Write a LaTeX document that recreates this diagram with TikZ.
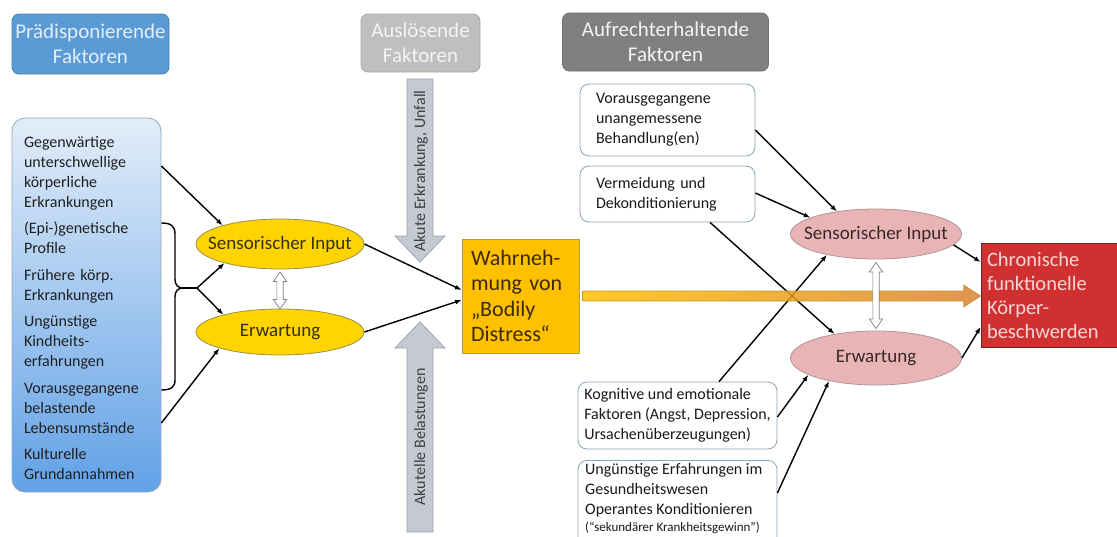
\documentclass[tikz,border=0pt]{standalone}
\usepackage{fontspec}
\setmainfont{Carlito}
\usetikzlibrary{shapes.geometric,shapes.arrows,arrows.meta,calc}
\definecolor{hblue}{HTML}{5B9BD5}
\definecolor{hblueb}{HTML}{4A7EB0}
\definecolor{hbluet}{HTML}{E2EEF9}
\definecolor{hgrayA}{HTML}{BFBFBF}
\definecolor{hgrayAb}{HTML}{A6A6A6}
\definecolor{hgrayB}{HTML}{808080}
\definecolor{hgrayBb}{HTML}{6E6E6E}
\definecolor{htextw}{HTML}{F4F4F4}
\definecolor{lbtop}{HTML}{E2EDF9}
\definecolor{lbbot}{HTML}{62A1E6}
\definecolor{lbb}{HTML}{8FA9C6}
\definecolor{yfill}{HTML}{FFD400}
\definecolor{yborder}{HTML}{9C8F4A}
\definecolor{ytext}{HTML}{33300F}
\definecolor{wfill}{HTML}{FFC000}
\definecolor{wborder}{HTML}{A9A050}
\definecolor{wtext}{HTML}{3B2A05}
\definecolor{gfill}{HTML}{C5CAD2}
\definecolor{gborder}{HTML}{9AA2AE}
\definecolor{gtextc}{HTML}{3F3F3F}
\definecolor{pfill}{HTML}{E8B4B6}
\definecolor{pborder}{HTML}{B39494}
\definecolor{ptext}{HTML}{3A2828}
\definecolor{rfill}{HTML}{D03030}
\definecolor{rborder}{HTML}{7B1E1E}
\definecolor{rtext}{HTML}{FCD5D5}
\definecolor{bborder}{HTML}{8DA2B6}
\definecolor{orL}{HTML}{FFC000}
\definecolor{orR}{HTML}{DA8236}
\definecolor{orB}{HTML}{C8943C}
\definecolor{darr}{HTML}{7F7F7F}
\begin{document}
\begin{tikzpicture}[x=1pt,y=-1pt,
  every node/.style={inner sep=0pt},
  hdr/.style={rounded corners=7pt, align=center, font=\fontsize{21}{25}\selectfont, line width=0.8pt},
  smalltext/.style={font=\fontsize{16}{20}\selectfont},
  wbox/.style={draw=bborder, fill=white, rounded corners=9pt, line width=0.8pt, align=left, smalltext, text=black!90},
  yell/.style={ellipse, draw=yborder, fill=yfill, line width=0.8pt},
  pell/.style={ellipse, draw=pborder, fill=pfill, line width=0.8pt},
  etext/.style={font=\fontsize{19}{22}\selectfont},
  conn/.style={line width=1.4pt, black},
  arr/.style={conn, -{Latex[length=6.5pt,width=5pt]}},
  garrow/.style={fill=gfill, draw=gborder, line width=0.8pt},
  gtext/.style={smalltext, text=gtextc},
  dbl/.style={double arrow, draw=darr, fill=white, line width=0.7pt, minimum height=37pt, inner sep=2.8pt, double arrow head extend=3.5pt, double arrow tip angle=70, rotate=90}
]
\useasboundingbox (0,0) rectangle (1117,536);
\clip (0,0) rectangle (1117,536);

% headers
\node[hdr, fill=hblue, draw=hblueb, text=hbluet, minimum width=157pt, minimum height=60pt] (h1) at (90.5,44) {Prädisponierende\\Faktoren};
\node[hdr, fill=hgrayA, draw=hgrayAb, text=htextw, minimum width=119pt, minimum height=58pt] (h2) at (420.5,43) {Auslösende\\Faktoren};
\node[hdr, fill=hgrayB, draw=hgrayBb, text=htextw, minimum width=206pt, minimum height=58pt] (h3) at (665.5,42) {Aufrechterhaltende\\Faktoren};

% left box
\node[draw=lbb, line width=0.8pt, rounded corners=13pt, top color=lbtop, bottom color=lbbot, minimum width=149pt, minimum height=374pt] (lb) at (86.5,305) {};
\node[align=left, text width=125pt, smalltext, text=black!88] (lbt) at (86.5,308) {Gegenwärtige\\unterschwellige\\körperliche\\Erkrankungen\\[6pt](Epi-)genetische\\Profile\\[6.5pt]Frühere körp.\\Erkrankungen\\[6pt]Ungünstige\\Kindheits-\\erfahrungen\\[7pt]Vorausgegangene\\belastende\\Lebensumstände\\[6pt]Kulturelle\\Grundannahmen};

% yellow ellipses
\node[yell, minimum width=168pt, minimum height=50pt] (ysens) at (280,244) {};
\node[etext, text=ytext] (ysenst) at (ysens) {Sensorischer Input};
\node[yell, minimum width=168pt, minimum height=46pt] (yerw) at (280,332) {};
\node[etext, text=ytext] (yerwt) at (yerw) {Erwartung};

% Wahrnehmung
\node[draw=wborder, fill=wfill, line width=0.8pt, minimum width=117pt, minimum height=114pt, align=left, text width=99pt, font=\fontsize{22}{25.5}\selectfont, text=wtext] (wahr) at (520.5,296) {Wahrneh-\\mung von\\„Bodily\\Distress“};

% grey arrows
\draw[garrow] (407,79) -- (433,79) -- (433,236) -- (445,236) -- (420,262) -- (395,236) -- (407,236) -- cycle;
\draw[garrow] (407,532) -- (433,532) -- (433,348) -- (445,348) -- (420,322) -- (395,348) -- (407,348) -- cycle;
\node[gtext, rotate=90] (akut1) at (421,171) {Akute Erkrankung, Unfall};
\node[gtext, rotate=90] (akut2) at (421,437) {Akutelle Belastungen};

% right boxes
\node[wbox, minimum width=175pt, minimum height=72pt, text width=143pt] (b1) at (667.5,120) {Vorausgegangene\\unangemessene\\Behandlung(en)};
\node[wbox, minimum width=175pt, minimum height=56pt, text width=143pt] (b2) at (667.5,194) {Vermeidung und\\Dekonditionierung};
\node[wbox, minimum width=199pt, minimum height=67pt] (b3) at (677.5,415.5) {Kognitive und emotionale\\Faktoren (Angst, Depression,\\Ursachenüberzeugungen)};
\node[wbox, minimum width=199pt, minimum height=92pt, anchor=north] (b4) at (677.5,460) {};
\node[smalltext, align=left, anchor=north west, text=black!90] (b4t) at (585,463) {Ungünstige Erfahrungen im\\Gesundheitswesen\\Operantes Konditionieren\\[-3pt]{\fontsize{13}{16}\selectfont(“sekundärer Krankheitsgewinn”)}};

% pink ellipses
\node[pell, minimum width=171pt, minimum height=50pt] (psens) at (876,234) {};
\node[etext, text=ptext] (psenst) at (psens) {Sensorischer Input};
\node[pell, minimum width=171pt, minimum height=54pt] (perw) at (876,358) {};
\node[etext, text=ptext] (perwt) at (perw) {Erwartung};

% red box
\node[draw=rborder, fill=rfill, line width=0.8pt, minimum width=136pt, minimum height=104pt, align=left, text width=124pt, font=\fontsize{20.5}{24}\selectfont, text=rtext] (red) at (1049,295) {Chronische\\funktionelle\\Körper-\\beschwerden};

% left connectors
\coordinate (btip) at (183,288);
\coordinate (bfork) at (197,288);
\draw[arr] (lb.east |- 0,166) -- (ysens.162);
\draw[arr] (lb.east |- 0,423) -- (yerw.195);
\draw[conn] (lb.east |- 0,223) .. controls (171,223) and (175,226) .. (175,234) -- (175,279) .. controls (175,285) and (178,288) .. (btip) .. controls (178,288) and (175,291) .. (175,297) -- (175,380) .. controls (175,387) and (171,390) .. (lb.east |- 0,390);
\draw[conn] (btip) -- (bfork);
\draw[arr] (bfork) -- (ysens.199);
\draw[arr] (bfork) -- (yerw.163);
\draw[arr] (ysens.east) -- (wahr.west |- 0,290);
\draw[arr] (yerw.east) -- (wahr.west |- 0,300);

% right connectors
\draw[arr] (b1.east |- 0,130) -- (psens.150);
\draw[arr] (b2.east |- 0,193) -- (psens.166);
\draw[arr] (b2.south -| 710,0) -- (perw.150);
\draw[arr] (b3.north -| 719,0) -- (psens.203);
\draw[arr] (b3.east |- 0,417) -- (perw.194);
\draw[arr] (b4.east |- 0,493) -- (perw.206);
\draw[arr] (psens.-8) -- (red.west |- 0,262);
\draw[arr] (perw.east) -- (red.west |- 0,327);

% orange arrow
\path[draw=orB, line width=0.7pt, left color=orL, right color=orR, fill opacity=0.85] ($(wahr.east)+(3,-5)$) -- ($(red.west)+(-17,-4)$) -- ($(red.west)+(-17,-10)$) -- ($(red.west)+(0,1)$) -- ($(red.west)+(-17,12)$) -- ($(red.west)+(-17,6)$) -- ($(wahr.east)+(3,5)$) -- cycle;

% double arrows
\node[dbl] (d1) at (280,290.5) {};
\node[dbl, minimum height=66pt] (d2) at (876,295.5) {};
\end{tikzpicture}
\end{document}
